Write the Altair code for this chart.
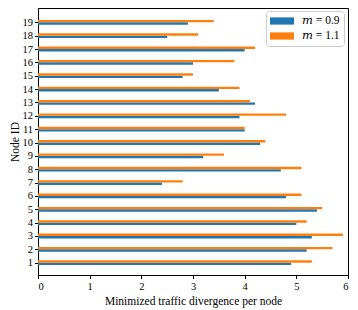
import altair as alt
import pandas as pd

nodes = list(range(1, 20))
m09 = [4.9, 5.2, 5.3, 5.0, 5.4, 4.8, 2.4, 4.7, 3.2, 4.3, 4.0, 3.9, 4.2, 3.5, 2.8, 3.0, 4.0, 2.5, 2.9]
m11 = [5.3, 5.7, 5.9, 5.2, 5.5, 5.1, 2.8, 5.1, 3.6, 4.4, 4.0, 4.8, 4.1, 3.9, 3.0, 3.8, 4.2, 3.1, 3.4]
series = ["𝑚 = 0.9", "𝑚 = 1.1"]
x_ticks = [0, 1, 2, 3, 4, 5, 6]

rows = []
for n, a, b in zip(nodes, m09, m11):
    rows.append({"node": n, "value": a, "series": series[0], "k": 0})
    rows.append({"node": n, "value": b, "series": series[1], "k": 1})
df = pd.DataFrame(rows)

W = 0.18
FONT = "Liberation Serif, Times New Roman, Times, DejaVu Serif, serif"

chart = (
    alt.Chart(df)
    .transform_calculate(
        y0=f"datum.node + (datum.k == 1 ? 0 : -{W})",
        y1=f"datum.node + (datum.k == 1 ? {W} : 0)",
    )
    .mark_rect()
    .encode(
        x=alt.X(
            "value:Q",
            scale=alt.Scale(domain=[0, 6], nice=False),
            axis=alt.Axis(values=x_ticks, title="Minimized traffic divergence per node",
                          labelPadding=3, titlePadding=3),
        ),
        x2=alt.datum(0),
        y=alt.Y(
            "y0:Q",
            scale=alt.Scale(domain=[0.08, 20.07], nice=False, zero=False),
            axis=alt.Axis(values=nodes, title="Node ID", labelPadding=2, titlePadding=1.5),
        ),
        y2="y1:Q",
        color=alt.Color(
            "series:N",
            scale=alt.Scale(domain=series, range=["#1f77b4", "#ff7f0e"]),
            legend=alt.Legend(
                title=None,
                orient="none",
                legendX=228,
                legendY=3,
                symbolType="M-2,-0.6H2V0.6H-2Z",
                symbolSize=144,
                symbolStrokeWidth=0,
                symbolOffset=6,
                labelOffset=14,
                labelFont=FONT,
                labelFontSize=11.5,
                labelColor="black",
                strokeColor="#cccccc",
                fillColor="white",
                padding=4,
                cornerRadius=3,
                rowPadding=3,
            ),
        ),
    )
    .properties(
        width=310,
        height=267,
        autosize=alt.AutoSizeParams(type="none"),
        padding={"left": 30, "top": 0, "right": 2, "bottom": 33},
    )
    .configure_view(stroke="black", strokeWidth=1)
    .configure_axis(
        grid=False,
        labelFont=FONT,
        labelFontSize=10.5,
        labelColor="black",
        titleFont=FONT,
        titleFontSize=11.5,
        titleFontWeight="normal",
        titleColor="black",
        tickColor="black",
        domainColor="black",
        tickSize=3.5,
    )
)

chart.save("out.html", embed_options={"renderer": "svg", "actions": False})
